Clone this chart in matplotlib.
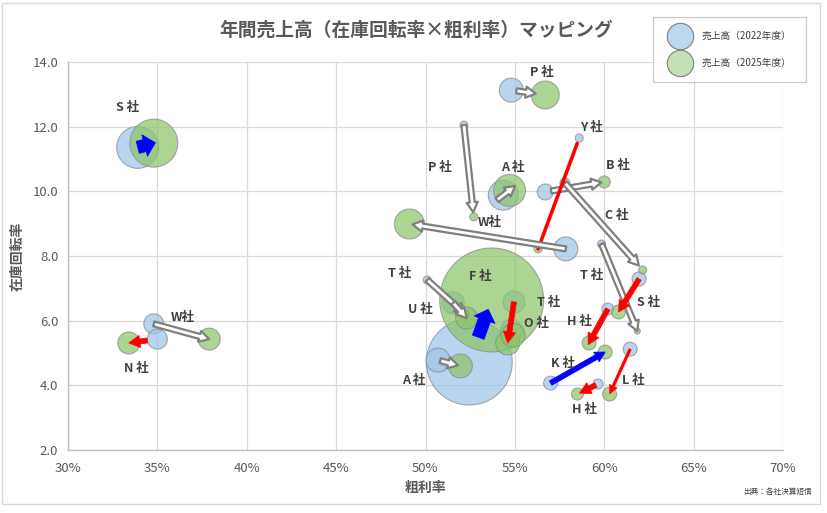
import matplotlib
matplotlib.use('Agg')
import matplotlib.pyplot as plt
from matplotlib.patches import FancyArrowPatch, Rectangle
from matplotlib.lines import Line2D
from matplotlib.ticker import FuncFormatter

plt.rcParams['font.family'] = ['Noto Sans CJK JP', 'DejaVu Sans']

# ---------------- data ----------------
companies = ['S社', 'P社', 'P社', 'A社', 'B社', 'C社', 'Y社', 'W社', 'F社', 'A社', 'T社',
             'U社', 'T社', 'O社', 'T社', 'S社', 'H社', 'K社', 'L社', 'H社', 'W社', 'N社']
margin_2022 = [33.9, 54.8, 52.15, 54.35, 56.7, 57.8, 58.6, 57.85, 52.45, 50.7, 50.1,
               51.55, 54.95, 54.8, 59.85, 61.95, 60.2, 57.0, 61.45, 59.65, 34.8, 35.0]
turnover_2022 = [11.36, 13.13, 12.05, 9.88, 9.98, 10.26, 11.65, 8.22, 4.72, 4.78, 7.26,
                 6.55, 6.58, 5.70, 8.37, 7.29, 6.36, 4.07, 5.12, 4.04, 5.90, 5.43]
sales_2022 = [441, 144, 16, 225, 64, 25, 16, 144, 1849, 144, 16,
              121, 121, 121, 16, 49, 36, 49, 49, 25, 100, 100]
margin_2025 = [34.8, 56.7, 52.7, 54.7, 60.0, 62.15, 56.3, 49.1, 53.7, 51.95, 52.2,
               52.3, 54.6, 54.9, 61.85, 60.8, 59.15, 60.05, 60.3, 58.5, 37.9, 33.4]
turnover_2025 = [11.49, 12.98, 9.21, 10.03, 10.29, 7.57, 8.22, 8.99, 6.64, 4.60, 6.21,
                 6.08, 5.31, 5.55, 5.68, 6.27, 5.31, 5.03, 3.73, 3.73, 5.43, 5.31]
sales_2025 = [576, 196, 16, 256, 36, 16, 16, 225, 2704, 144, 16,
              121, 144, 144, 9, 49, 49, 49, 49, 36, 121, 121]

x_ticks = [30, 35, 40, 45, 50, 55, 60, 65, 70]
y_ticks = [2.0, 4.0, 6.0, 8.0, 10.0, 12.0, 14.0]

label_text = ['S 社', 'P 社', 'P 社', 'A 社', 'Y 社', 'B 社', 'W社', 'C 社', 'T 社', 'F 社', 'T 社',
              'U 社', 'T 社', 'S 社', 'H 社', 'O 社', 'W社', 'N 社', 'K 社', 'A 社', 'L 社', 'H 社']
label_x = [33.35, 56.5, 50.8, 54.9, 59.3, 60.75, 53.6, 60.7, 48.55, 53.05, 59.3,
           49.7, 56.9, 62.5, 58.6, 56.2, 36.4, 33.85, 57.7, 49.35, 61.65, 58.9]
label_y = [12.58, 13.69, 10.75, 10.75, 11.96, 10.80, 9.04, 9.24, 7.45, 7.37, 7.40,
           6.33, 6.56, 6.56, 5.96, 5.92, 6.11, 4.51, 4.68, 4.16, 4.14, 3.24]

# arrow styles (kind, start fraction, end fraction)
arrow_kind = ['blueblock', 'gray', 'gray', 'gray', 'gray', 'gray', 'redline', 'gray', 'blueblock', 'gray', 'gray',
              'gray', 'red', None, 'gray', 'red', 'red', 'blue', 'redthin', 'red', 'gray', 'red']
arrow_f0 = [0.0, 0.15, 0.0, -1.0, 0.1, 0.0, 0.05, 0.0, 0.4, 0.1, 0.0,
            0.0, 0.0, 0.0, 0.0, 0.0, 0.0, 0.0, 0.0, 0.1, 0.0, 0.35]
arrow_f1 = [1.1, 0.72, 0.95, 1.9, 0.95, 0.95, 1.0, 0.98, 0.85, 0.9, 1.0,
            1.0, 1.0, 1.0, 1.0, 1.0, 1.05, 1.0, 1.0, 0.9, 1.0, 1.0]

# ---------------- figure ----------------
W, H = 827, 513
fig = plt.figure(figsize=(W / 100, H / 100), dpi=100)
ax = fig.add_axes([68 / W, 1 - 450 / H, (783 - 68) / W, (450 - 62) / H])

fig.patches.append(Rectangle((2 / W, 1 - 504 / H), 818 / W, 501 / H, transform=fig.transFigure,
                             fill=False, edgecolor='#d9d9d9', linewidth=1.0))

k = 2.07
blue_fc = '#9fc4e8'
green_fc = '#8dc46a'
edge = '#8a8a8a'

order22 = sorted(range(len(companies)), key=lambda i: -sales_2022[i])
order25 = sorted(range(len(companies)), key=lambda i: -sales_2025[i])
ax.scatter([margin_2022[i] for i in order22], [turnover_2022[i] for i in order22],
           s=[sales_2022[i] * k for i in order22], c=blue_fc, alpha=0.72,
           edgecolors=edge, linewidths=0.8, zorder=3)
ax.scatter([margin_2025[i] for i in order25], [turnover_2025[i] for i in order25],
           s=[sales_2025[i] * k for i in order25], c=green_fc, alpha=0.72,
           edgecolors=edge, linewidths=0.8, zorder=4)

for i, kind in enumerate(arrow_kind):
    if kind is None:
        continue
    x0, y0 = margin_2022[i], turnover_2022[i]
    x1, y1 = margin_2025[i], turnover_2025[i]
    f0, f1 = arrow_f0[i], arrow_f1[i]
    p0 = (x0 + (x1 - x0) * f0, y0 + (y1 - y0) * f0)
    p1 = (x0 + (x1 - x0) * f1, y0 + (y1 - y0) * f1)
    if kind == 'gray':
        a = FancyArrowPatch(p0, p1, arrowstyle='simple,head_length=0.9,head_width=1.0,tail_width=0.45',
                            mutation_scale=8, facecolor='white', edgecolor='#7f7f7f', linewidth=1.6,
                            shrinkA=0, shrinkB=0, zorder=6)
    elif kind == 'red':
        a = FancyArrowPatch(p0, p1, arrowstyle='simple,head_length=1.0,head_width=1.1,tail_width=0.45',
                            mutation_scale=8, facecolor='#ff0000', edgecolor='#ff0000', linewidth=0.5,
                            shrinkA=0, shrinkB=0, zorder=6)
    elif kind == 'redthin':
        a = FancyArrowPatch(p0, p1, arrowstyle='simple,head_length=0.8,head_width=0.8,tail_width=0.25',
                            mutation_scale=8, facecolor='#ff0000', edgecolor='#ff0000', linewidth=0.3,
                            shrinkA=0, shrinkB=0, zorder=6)
    elif kind == 'redline':
        a = FancyArrowPatch(p0, p1, arrowstyle='-', color='#ff0000', linewidth=2.6,
                            shrinkA=0, shrinkB=0, zorder=6)
    elif kind == 'blue':
        a = FancyArrowPatch(p0, p1, arrowstyle='simple,head_length=0.9,head_width=1.0,tail_width=0.45',
                            mutation_scale=8, facecolor='#0000ff', edgecolor='#0000ff', linewidth=0.5,
                            shrinkA=0, shrinkB=0, zorder=6)
    else:  # blueblock
        a = FancyArrowPatch(p0, p1, arrowstyle='simple,head_length=0.8,head_width=1.6,tail_width=0.9',
                            mutation_scale=10, facecolor='#0000ff', edgecolor='#0000ff', linewidth=0.5,
                            shrinkA=0, shrinkB=0, zorder=6)
    ax.add_patch(a)

for t, x, y in zip(label_text, label_x, label_y):
    ax.text(x, y, t, fontsize=9, fontweight='bold', color='#404040', ha='center', va='center', zorder=8)

ax.set_xlim(30, 70)
ax.set_ylim(2, 14)
ax.set_xticks(x_ticks)
ax.set_yticks(y_ticks)
ax.xaxis.set_major_formatter(FuncFormatter(lambda v, p: f'{v:.0f}%'))
ax.yaxis.set_major_formatter(FuncFormatter(lambda v, p: f'{v:.1f}'))
ax.tick_params(length=0, labelsize=9.5, labelcolor='#595959')
ax.tick_params(axis='x', pad=9)
ax.tick_params(axis='y', pad=7)
ax.grid(True, color='#d9d9d9', linewidth=0.9, zorder=0)
ax.set_axisbelow(True)
for s in ['top', 'right']:
    ax.spines[s].set_visible(False)
for s in ['left', 'bottom']:
    ax.spines[s].set_color('#bfbfbf')
    ax.spines[s].set_linewidth(1.0)

ax.set_xlabel('粗利率', fontsize=10, fontweight='bold', color='#595959', labelpad=4)
ax.set_ylabel('在庫回転率', fontsize=10, fontweight='bold', color='#595959', labelpad=6)

fig.text(416 / W, 1 - 30 / H, '年間売上高（在庫回転率×粗利率）マッピング', fontsize=13.5,
         color='#595959', ha='center', va='center', fontweight='bold')
fig.text(812 / W, 1 - 492 / H, '出典：各社決算短信', fontsize=5.5, color='#404040', ha='right', va='center')

handles = [Line2D([], [], linestyle='none', marker='o', markersize=19, markerfacecolor='#bdd7ee',
                  markeredgecolor='#7f7f7f', markeredgewidth=0.8),
           Line2D([], [], linestyle='none', marker='o', markersize=19, markerfacecolor='#c5e0b4',
                  markeredgecolor='#7f7f7f', markeredgewidth=0.8)]
leg = fig.legend(handles, ['売上高（2022年度）', '売上高（2025年度）'], loc='upper right',
                 bbox_to_anchor=(806 / W, 1 - 17 / H), bbox_transform=fig.transFigure,
                 fontsize=7, frameon=True, fancybox=False, edgecolor='#bfbfbf',
                 borderpad=1.45, labelspacing=1.75, handletextpad=1.0, handlelength=2.6,
                 borderaxespad=0)
leg.get_frame().set_linewidth(0.9)
for t in leg.get_texts():
    t.set_color('#404040')

fig.savefig('out.png', dpi=100)
